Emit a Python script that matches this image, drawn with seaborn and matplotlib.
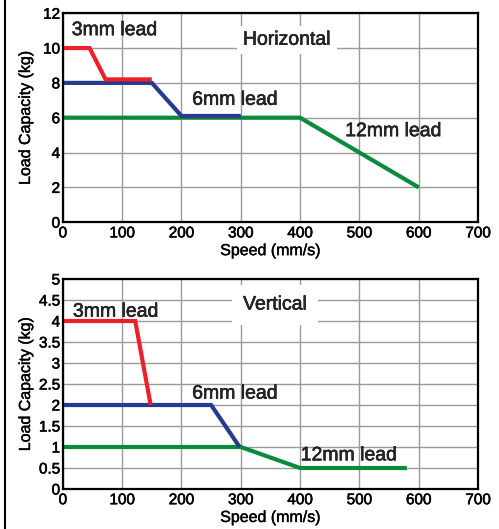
import numpy as np
import pandas as pd
import matplotlib
matplotlib.use("Agg")
import matplotlib.pyplot as plt
import matplotlib.patheffects as pe
import seaborn as sns
from matplotlib.lines import Line2D

sns.set_style("whitegrid")
plt.rcParams["font.family"] = ["Liberation Sans", "DejaVu Sans"]

# Horizontal mounting
h_3mm_speed = [0, 45, 72, 150]
h_3mm_load = [10, 10, 8.2, 8.2]
h_6mm_speed = [0, 150, 200, 300]
h_6mm_load = [8, 8, 6.1, 6.1]
h_12mm_speed = [0, 400, 600]
h_12mm_load = [6, 6, 2]

# Vertical mounting
v_3mm_speed = [0, 122, 148]
v_3mm_load = [4, 4, 2]
v_6mm_speed = [0, 250, 298]
v_6mm_load = [2, 2, 1]
v_12mm_speed = [0, 300, 400, 580]
v_12mm_load = [1, 1, 0.5, 0.5]

red = "#ee1f2b"
blue = "#283a8f"
green = "#0a8a3c"

fig = plt.figure(figsize=(4.99, 5.29), dpi=100)
ax1 = fig.add_axes([0.126, 0.580, 0.832, 0.395])
ax2 = fig.add_axes([0.126, 0.0756, 0.832, 0.397])

bold_ish = [pe.withStroke(linewidth=0.4, foreground="black")]


def draw(ax, series, ymax, ystep):
    for sp, ld, c in series:
        sns.lineplot(x=sp, y=ld, color=c, linewidth=3, ax=ax, sort=False,
                     solid_capstyle="butt", solid_joinstyle="miter")
    ax.set_xlim(0, 700)
    ax.set_ylim(0, ymax)
    ax.set_xticks(np.arange(0, 701, 100))
    yt = np.arange(0, ymax + 0.001, ystep)
    ax.set_yticks(yt)
    ax.set_yticklabels([f"{v:g}" for v in yt])
    ax.grid(True, color="#9a9a9a", linewidth=1)
    ax.set_axisbelow(True)
    for s in ax.spines.values():
        s.set_color("black")
        s.set_linewidth(1.6)
        s.set_visible(True)
    ax.tick_params(axis="both", length=0, labelsize=11, colors="black")
    ax.tick_params(axis="y", pad=2)
    ax.tick_params(axis="x", pad=3)
    for lb in ax.get_xticklabels() + ax.get_yticklabels():
        lb.set_path_effects(bold_ish)
    ax.set_xlabel("Speed (mm/s)", fontsize=11.5, labelpad=2, color="black",
                  path_effects=[pe.withStroke(linewidth=0.3, foreground="black")])
    ax.set_ylabel("Load Capacity (kg)", fontsize=11.5, color="black",
                  path_effects=[pe.withStroke(linewidth=0.3, foreground="black")])
    ax.yaxis.set_label_coords(-0.072, 0.5)


draw(ax1, [(h_12mm_speed, h_12mm_load, green),
           (h_6mm_speed, h_6mm_load, blue),
           (h_3mm_speed, h_3mm_load, red)], 12, 2)
draw(ax2, [(v_12mm_speed, v_12mm_load, green),
           (v_6mm_speed, v_6mm_load, blue),
           (v_3mm_speed, v_3mm_load, red)], 5, 0.5)

fs = 14
box = dict(facecolor="white", edgecolor="none", pad=4)
ax1.text(15, 11.0, "3mm lead", fontsize=fs, va="center", path_effects=bold_ish)
ax1.text(378, 10.45, "Horizontal", fontsize=fs, va="center", ha="center",
         bbox=box, path_effects=bold_ish)
ax1.text(218, 7.0, "6mm lead", fontsize=fs, va="center", path_effects=bold_ish)
ax1.text(476, 5.2, "12mm lead", fontsize=fs, va="center", path_effects=bold_ish)

ax2.text(17, 4.21, "3mm lead", fontsize=fs, va="center", path_effects=bold_ish)
ax2.text(358, 4.38, "Vertical", fontsize=fs, va="center", ha="center",
         bbox=dict(facecolor="white", edgecolor="none", pad=8), path_effects=bold_ish)
ax2.text(218, 2.26, "6mm lead", fontsize=fs, va="center", path_effects=bold_ish)
ax2.text(401, 0.79, "12mm lead", fontsize=fs, va="center", path_effects=bold_ish)

fig.add_artist(Line2D([0.011, 0.011], [0, 1], color="black", linewidth=1.5,
                      transform=fig.transFigure))

fig.savefig("out.png", dpi=100)
